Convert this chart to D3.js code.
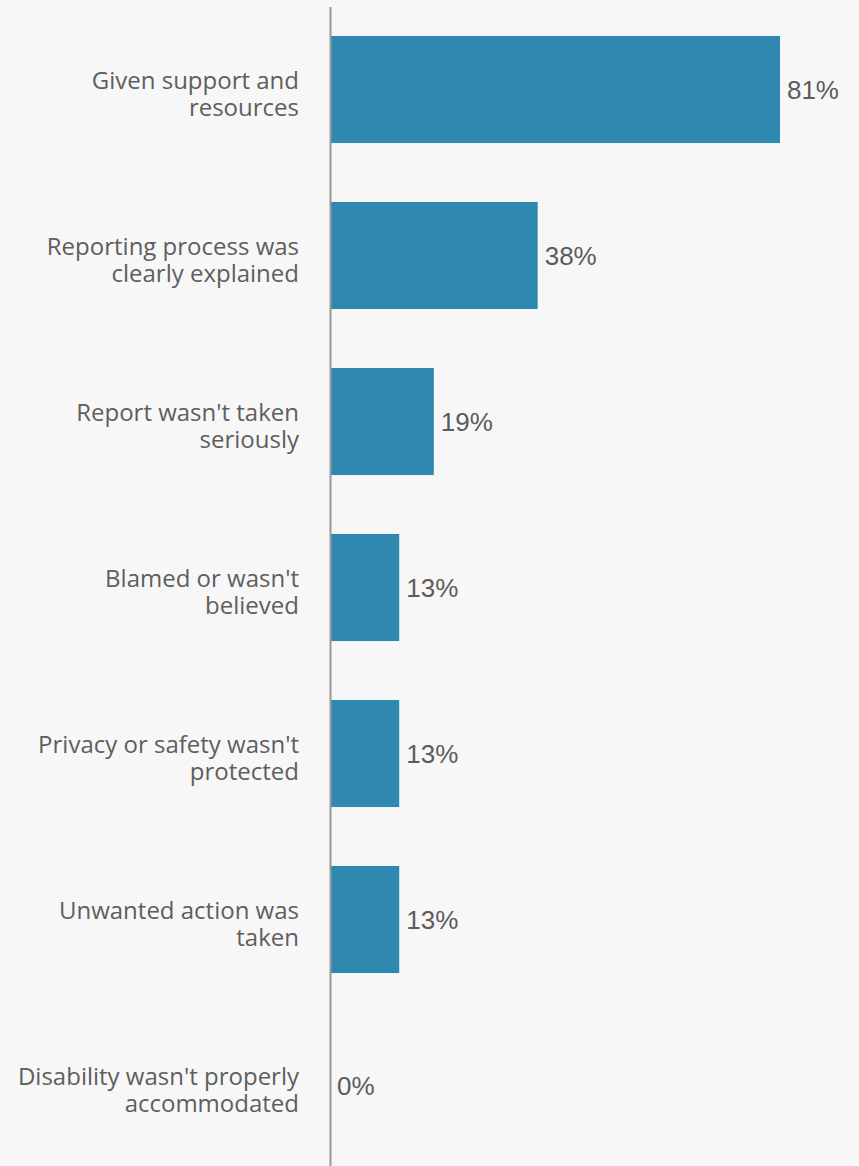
<!DOCTYPE html>
<html>
<head>
<meta charset="utf-8">
<script src="https://cdn.jsdelivr.net/npm/d3@7"></script>
<style>
  html, body { margin: 0; padding: 0; background: #f7f7f7; }
  svg { display: block; }
</style>
</head>
<body>
<svg id="chart" width="859" height="1166"></svg>
<script>
// Categories (with their line breaks as shown in the chart)
const categories = [
  ["Given support and", "resources"],
  ["Reporting process was", "clearly explained"],
  ["Report wasn't taken", "seriously"],
  ["Blamed or wasn't", "believed"],
  ["Privacy or safety wasn't", "protected"],
  ["Unwanted action was", "taken"],
  ["Disability wasn't properly", "accommodated"]
];
// Percent of respondents
const values = [81.25, 37.5, 18.75, 12.5, 12.5, 12.5, 0];

const W = 859, H = 1166;
const svg = d3.select("#chart");
svg.append("rect").attr("width", W).attr("height", H).attr("fill", "#f7f7f7");

const keys = categories.map(c => c.join(" "));
const data = keys.map((k, i) => ({ key: k, lines: categories[i], value: values[i] }));

const axisX = 330;
const x = d3.scaleLinear().domain([0, 100]).range([axisX, axisX + 553.8]);
const y = d3.scaleBand().domain(keys).range([6.5, 1168.5]).paddingInner(0.355).paddingOuter(0.1775);

// Bars
svg.append("g").selectAll("rect").data(data).join("rect")
  .attr("x", x(0))
  .attr("y", d => y(d.key))
  .attr("width", d => x(d.value) - x(0))
  .attr("height", y.bandwidth())
  .attr("fill", "#2e88b0");

// Axis line
svg.append("line")
  .attr("x1", axisX + 0.5).attr("x2", axisX + 0.5)
  .attr("y1", 7).attr("y2", H)
  .attr("stroke", "#999").attr("stroke-width", 2);

// Value labels
svg.append("g").selectAll("text").data(data).join("text")
  .attr("x", d => x(d.value) + 7)
  .attr("y", d => y(d.key) + y.bandwidth() / 2 + 9.5)
  .attr("font-family", "'Liberation Sans', Arial, sans-serif")
  .attr("font-size", 26)
  .attr("fill", "#5c5c5c")
  .text(d => Math.round(d.value) + "%");

// Category labels (one text element per line)
const lab = svg.append("g").selectAll("g").data(data).join("g");
lab.each(function(d) {
  const g = d3.select(this);
  const cy = y(d.key) + y.bandwidth() / 2;
  d.lines.forEach((line, i) => {
    g.append("text")
      .attr("text-anchor", "end")
      .attr("font-family", "'Open Sans', sans-serif")
      .attr("font-size", 24)
      .attr("fill", "#5e5e5e")
      .attr("x", 299)
      .attr("y", cy - 1 + i * 27.5)
      .text(line);
  });
});
</script>
</body>
</html>
